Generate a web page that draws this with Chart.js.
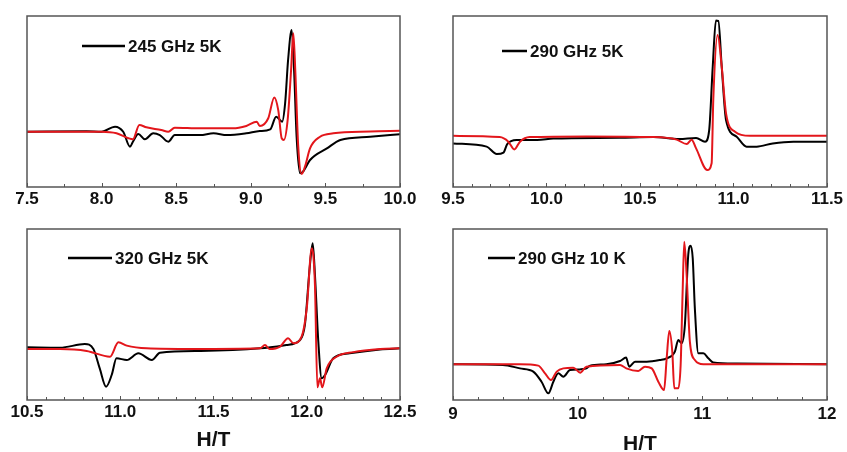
<!DOCTYPE html>
<html lang="en">
<head>
  <meta charset="UTF-8" />
  <title>EPR spectra</title>
  <script src="https://cdn.jsdelivr.net/npm/chart.js"></script>
  <style>
    body {
      margin: 0;
      background: #fff;
      width: 847px;
      height: 452px;
      overflow: hidden;
      position: relative;
    }
    canvas {
      position: absolute;
    }
  </style>
</head>
<body>
  <canvas id="p1" width="423" height="215" style="left:0;top:0;"></canvas>
  <canvas id="p2" width="424" height="215" style="left:423px;top:0;"></canvas>
  <canvas id="p3" width="423" height="237" style="left:0;top:215px;"></canvas>
  <canvas id="p4" width="424" height="237" style="left:423px;top:215px;"></canvas>

  <script>
    // signal in arbitrary units (0 = bottom of frame, 100 = top)

    // 245 GHz 5K
    const b245x = [7.5, 7.9, 8.0, 8.09, 8.145, 8.19, 8.21, 8.246, 8.29, 8.346, 8.39, 8.447, 8.49, 8.66, 8.75, 8.84, 8.97, 9.06, 9.13, 9.17, 9.21, 9.23, 9.25, 9.274, 9.29, 9.307, 9.33, 9.35, 9.397, 9.51, 9.6, 9.8, 10.0];
    const b245y = [32.3, 32.6, 32.3, 35.3, 32.3, 23.6, 26.5, 31.0, 27.9, 31.4, 30.4, 26.5, 30.4, 30.4, 31.4, 30.4, 31.4, 32.7, 33.7, 41.1, 38.2, 48.9, 74.3, 91.8, 68.4, 29.4, 8.0, 9.0, 15.8, 22.6, 27.5, 29.4, 30.8];
    const r245x = [7.5, 8.0, 8.1, 8.18, 8.21, 8.253, 8.30, 8.40, 8.447, 8.49, 8.66, 8.88, 8.97, 9.04, 9.06, 9.117, 9.157, 9.184, 9.207, 9.222, 9.247, 9.27, 9.285, 9.298, 9.318, 9.341, 9.363, 9.397, 9.464, 9.553, 9.8, 10.0];
    const r245y = [32.3, 32.3, 31.4, 28.5, 27.9, 36.3, 34.9, 33.3, 32.3, 34.7, 34.3, 34.3, 35.7, 38.2, 35.7, 40.2, 52.4, 45.0, 28.5, 27.5, 39.2, 68.4, 89.9, 68.4, 23.6, 7.6, 11.9, 22.6, 29.4, 31.4, 32.5, 32.9];

    // 290 GHz 5K
    const b290x = [9.5, 9.68, 9.734, 9.77, 9.79, 9.84, 9.95, 10.036, 10.39, 10.57, 10.71, 10.80, 10.848, 10.87, 10.889, 10.906, 10.919, 10.937, 10.96, 11.017, 11.07, 11.124, 11.21, 11.32, 11.5];
    const b290y = [25.5, 23.6, 19.3, 20.1, 25.1, 27.5, 27.5, 28.3, 28.8, 29.2, 28.1, 28.7, 26.5, 33.3, 70.4, 97.3, 97.1, 70.4, 39.2, 29.4, 23.6, 23.6, 25.5, 26.5, 26.5];
    const r290x = [9.5, 9.75, 9.796, 9.828, 9.858, 9.91, 10.215, 10.57, 10.696, 10.75, 10.776, 10.80, 10.86, 10.883, 10.892, 10.915, 10.937, 10.96, 11.008, 11.088, 11.5];
    const r290y = [29.9, 29.2, 26.5, 22.0, 26.5, 29.2, 29.6, 29.2, 27.7, 25.1, 27.7, 22.6, 9.9, 13.9, 51.3, 88.9, 70.4, 43.1, 32.3, 29.9, 29.9];

    // 320 GHz 5K
    const b320x = [10.5, 10.677, 10.81, 10.856, 10.89, 10.924, 10.954, 10.98, 11.035, 11.097, 11.169, 11.213, 11.43, 11.75, 11.89, 11.964, 11.99, 12.017, 12.032, 12.044, 12.062, 12.08, 12.098, 12.142, 12.23, 12.393, 12.5];
    const b320y = [30.8, 30.6, 32.7, 29.8, 18.5, 7.8, 14.6, 24.4, 23.4, 27.3, 23.4, 27.7, 28.7, 30.2, 32.2, 35.1, 43.9, 78.9, 91.6, 73.1, 34.1, 12.7, 14.6, 24.4, 27.3, 29.6, 30.2];
    const r320x = [10.5, 10.677, 10.82, 10.945, 10.99, 11.035, 11.142, 11.39, 11.75, 11.776, 11.80, 11.857, 11.90, 11.928, 11.973, 12.0, 12.027, 12.044, 12.057, 12.071, 12.083, 12.107, 12.16, 12.25, 12.393, 12.5];
    const r320y = [29.8, 29.8, 28.7, 25.3, 33.7, 31.8, 30.2, 29.8, 30.2, 32.2, 29.8, 31.2, 36.1, 33.2, 37.2, 53.6, 88.7, 67.3, 7.4, 12.7, 7.4, 18.5, 25.3, 28.0, 29.8, 30.2];

    // 290 GHz 10 K
    const b290hx = [9.0, 9.4, 9.537, 9.644, 9.71, 9.765, 9.805, 9.845, 9.885, 9.938, 10.02, 10.07, 10.1, 10.23, 10.34, 10.388, 10.414, 10.46, 10.554, 10.66, 10.714, 10.78, 10.807, 10.834, 10.86, 10.887, 10.906, 10.923, 10.94, 10.968, 11.008, 11.048, 11.088, 11.276, 12.0];
    const b290hy = [20.9, 20.5, 18.5, 16.6, 10.7, 3.9, 10.7, 15.6, 13.6, 17.5, 17.9, 18.5, 20.1, 20.9, 22.8, 24.8, 19.5, 22.4, 22.4, 23.4, 24.4, 28.3, 35.1, 33.2, 43.9, 84.8, 90.2, 82.9, 53.6, 27.3, 27.3, 24.4, 22.0, 21.4, 20.9];
    const r290hx = [9.0, 9.537, 9.684, 9.738, 9.786, 9.832, 9.885, 9.965, 10.02, 10.07, 10.34, 10.39, 10.486, 10.54, 10.594, 10.647, 10.693, 10.714, 10.735, 10.759, 10.775, 10.807, 10.826, 10.842, 10.855, 10.874, 10.9, 10.94, 11.008, 12.0];
    const r290hy = [20.9, 20.9, 20.1, 15.6, 11.7, 16.6, 18.5, 18.9, 16.0, 19.5, 20.5, 18.5, 17.0, 19.5, 18.5, 10.7, 5.8, 24.4, 40.3, 28.3, 6.8, 6.8, 20.5, 63.3, 92.6, 73.1, 34.1, 23.4, 20.9, 20.9];

    const FRAME = '#555';
    const RED = '#e3161b';

    function pts(xs, ys) {
      return xs.map((x, i) => ({ x: x, y: ys[i] }));
    }

    // frame, inward ticks and the little legend
    const decor = {
      id: 'decor',
      afterDraw(chart, args, opts) {
        const { ctx, chartArea: a, scales: { x } } = chart;
        ctx.save();
        ctx.strokeStyle = FRAME;
        ctx.lineWidth = 1;
        for (let v = opts.min; v <= opts.max + 1e-9; v += opts.minor) {
          const px = Math.round(x.getPixelForValue(v)) + 0.5;
          const major = Math.abs(v / opts.major - Math.round(v / opts.major)) < 1e-6;
          ctx.beginPath();
          ctx.moveTo(px, a.bottom);
          ctx.lineTo(px, a.bottom - (major ? 4 : 3));
          ctx.stroke();
        }
        ctx.lineWidth = 1.5;
        ctx.strokeRect(a.left, a.top, a.right - a.left, a.bottom - a.top);

        const lg = opts.legend;
        ctx.strokeStyle = '#000';
        ctx.lineWidth = 2.5;
        ctx.beginPath();
        ctx.moveTo(lg.x0, lg.y);
        ctx.lineTo(lg.x1, lg.y);
        ctx.stroke();
        ctx.fillStyle = '#111';
        ctx.font = 'bold 17px "Liberation Sans", Arial, sans-serif';
        ctx.textBaseline = 'middle';
        ctx.fillText(lg.text, lg.x1 + 3, lg.y + 1);
        ctx.restore();
      }
    };

    function panel(id, o) {
      new Chart(document.getElementById(id), {
        type: 'line',
        data: {
          datasets: [
            { data: pts(o.rx, o.ry), borderColor: RED, borderWidth: 2, pointRadius: 0, cubicInterpolationMode: 'monotone' },
            { data: pts(o.bx, o.by), borderColor: '#000', borderWidth: 2, pointRadius: 0, cubicInterpolationMode: 'monotone' }
          ]
        },
        options: {
          responsive: false,
          animation: false,
          layout: { padding: o.pad },
          plugins: {
            legend: { display: false },
            tooltip: { enabled: false },
            decor: { min: o.min, max: o.max, major: o.step, minor: o.minor, legend: o.legend }
          },
          scales: {
            x: {
              type: 'linear',
              min: o.min,
              max: o.max,
              grid: { display: false },
              border: { display: false },
              ticks: {
                stepSize: o.step,
                padding: o.tickPad,
                color: '#111',
                font: { family: '"Liberation Sans", Arial, sans-serif', size: 17, weight: 'bold' },
                maxRotation: 0,
                callback: v => o.digits ? v.toFixed(1) : String(v)
              },
              title: {
                display: !!o.title,
                text: o.title || '',
                color: '#111',
                font: { family: '"Liberation Sans", Arial, sans-serif', size: 21, weight: 'bold', lineHeight: 0.8 },
                padding: { top: 0, bottom: o.titlePad || 0 }
              },
              afterFit: s => { s.height = o.axisH; }
            },
            y: { display: false, min: 0, max: 100 }
          }
        },
        plugins: [decor]
      });
    }

    panel('p1', {
      bx: b245x, by: b245y, rx: r245x, ry: r245y,
      min: 7.5, max: 10.0, step: 0.5, minor: 0.25, digits: true,
      pad: { left: 27, right: 23, top: 16, bottom: 0 }, axisH: 28, tickPad: -6,
      legend: { x0: 82, x1: 125, y: 46, text: '245 GHz 5K' }
    });
    panel('p2', {
      bx: b290x, by: b290y, rx: r290x, ry: r290y,
      min: 9.5, max: 11.5, step: 0.5, minor: 0.1, digits: true,
      pad: { left: 30, right: 20, top: 16, bottom: 0 }, axisH: 28, tickPad: -6,
      legend: { x0: 79, x1: 104, y: 51, text: '290 GHz 5K' }
    });
    panel('p3', {
      bx: b320x, by: b320y, rx: r320x, ry: r320y,
      min: 10.5, max: 12.5, step: 0.5, minor: 0.1, digits: true,
      pad: { left: 27, right: 23, top: 14, bottom: 0 }, axisH: 52, tickPad: -6,
      title: 'H/T', titlePad: 3,
      legend: { x0: 68, x1: 112, y: 43, text: '320 GHz 5K' }
    });
    panel('p4', {
      bx: b290hx, by: b290hy, rx: r290hx, ry: r290hy,
      min: 9, max: 12, step: 1, minor: 0.2, digits: false,
      pad: { left: 30, right: 20, top: 14, bottom: 0 }, axisH: 52, tickPad: -4,
      title: 'H/T', titlePad: -1,
      legend: { x0: 65, x1: 92, y: 43, text: '290 GHz 10 K' }
    });
  </script>
</body>
</html>
